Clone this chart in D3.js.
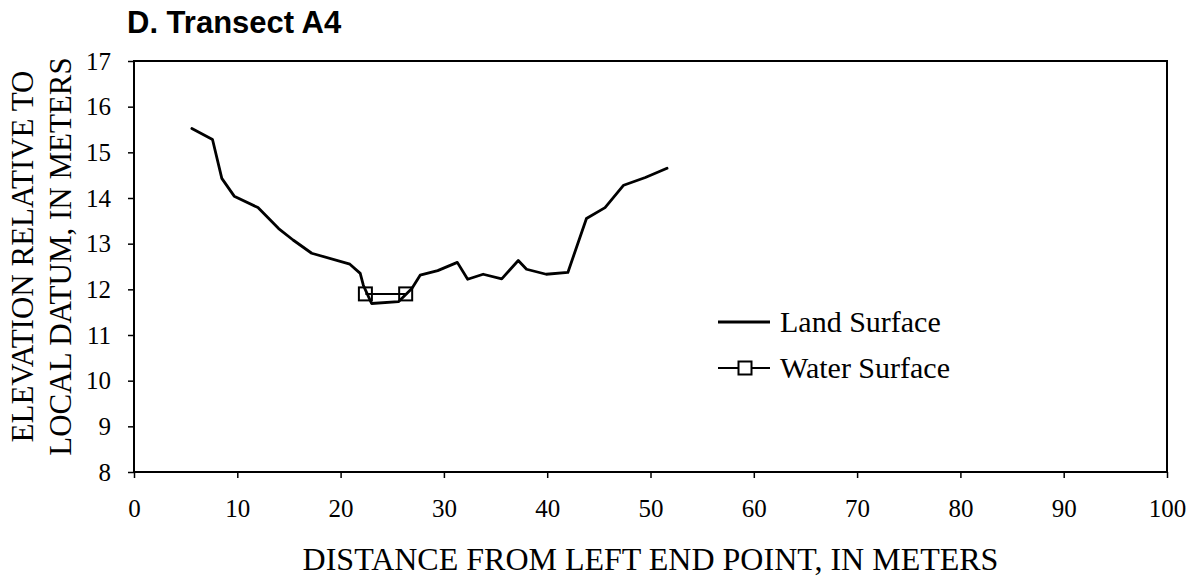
<!DOCTYPE html>
<html>
<head>
<meta charset="utf-8">
<script src="https://cdn.jsdelivr.net/npm/d3@7"></script>
<style>
  body { margin: 0; background: #fff; }
  svg { display: block; }
</style>
</head>
<body>
<div id="chart"></div>
<script>
// data
var landX = [5.6, 7.6, 8.5, 9.7, 12.0, 14.0, 15.4, 17.2, 20.9, 21.9, 22.2, 22.5, 23.0, 25.6, 26.9, 27.7, 29.4, 31.3, 32.3, 33.8, 35.6, 37.2, 38.0, 39.9, 42.0, 43.8, 45.6, 47.4, 49.5, 51.6];
var landY = [15.52, 15.28, 14.43, 14.04, 13.79, 13.33, 13.08, 12.79, 12.55, 12.35, 12.09, 11.94, 11.69, 11.73, 12.02, 12.31, 12.41, 12.59, 12.22, 12.33, 12.23, 12.63, 12.44, 12.33, 12.37, 13.55, 13.79, 14.28, 14.45, 14.65];
var waterX = [22.4, 26.3];
var waterY = [11.9, 11.9];
var xTicks = [0, 10, 20, 30, 40, 50, 60, 70, 80, 90, 100];
var yTicks = [8, 9, 10, 11, 12, 13, 14, 15, 16, 17];

var W = 1197, H = 577;
var margin = { top: 61, right: 30, bottom: 105, left: 134 };
var width = W - margin.left - margin.right;
var height = H - margin.top - margin.bottom;

var serif = "'Liberation Serif', 'Times New Roman', serif";

var svg = d3.select("#chart").append("svg")
    .attr("width", W)
    .attr("height", H);

var g = svg.append("g")
    .attr("transform", "translate(" + margin.left + "," + margin.top + ")");

// scales
var x = d3.scaleLinear().domain([0, 100]).range([0, width]);
var y = d3.scaleLinear().domain([8, 17]).range([height, 0]);

// frame
g.append("rect")
    .attr("width", width)
    .attr("height", height)
    .attr("fill", "none")
    .attr("stroke", "#000")
    .attr("stroke-width", 2);

// axes
var axisX = d3.axisBottom(x).tickValues(xTicks).tickSize(6).tickPadding(21);
var groupX = g.append("g")
    .attr("transform", "translate(0," + height + ")")
    .call(axisX);

var axisY = d3.axisLeft(y).tickValues(yTicks).tickSize(6).tickPadding(17);
var groupY = g.append("g")
    .call(axisY);

[groupX, groupY].forEach(function(ax) {
  ax.select(".domain").remove();
  ax.selectAll("line").attr("stroke", "#000").attr("stroke-width", 1.5);
  ax.selectAll("text")
    .attr("fill", "#000")
    .attr("font-family", serif)
    .attr("font-size", 25);
});

// land surface line
var land = landX.map(function(d, i) { return { x: d, y: landY[i] }; });
var water = waterX.map(function(d, i) { return { x: d, y: waterY[i] }; });

var line = d3.line()
    .x(function(d) { return x(d.x); })
    .y(function(d) { return y(d.y); });

g.append("path")
    .datum(land)
    .attr("d", line)
    .attr("fill", "none")
    .attr("stroke", "#000")
    .attr("stroke-width", 2.8)
    .attr("stroke-linejoin", "round")
    .attr("stroke-linecap", "round");

g.append("path")
    .datum(water)
    .attr("d", line)
    .attr("fill", "none")
    .attr("stroke", "#000")
    .attr("stroke-width", 2);

var sq = 13;
g.selectAll("rect.marker")
    .data(water)
    .enter()
    .append("rect")
    .attr("class", "marker")
    .attr("x", function(d) { return x(d.x) - sq/2; })
    .attr("y", function(d) { return y(d.y) - sq/2; })
    .attr("width", sq)
    .attr("height", sq)
    .attr("fill", "none")
    .attr("stroke", "#000")
    .attr("stroke-width", 2);

// legend
var legend = svg.append("g").attr("transform", "translate(718,322)");
legend.append("line")
    .attr("x1", 0).attr("x2", 52).attr("y1", 0).attr("y2", 0)
    .attr("stroke", "#000").attr("stroke-width", 2.8);
legend.append("text")
    .attr("x", 62).attr("y", 10)
    .attr("font-family", serif).attr("font-size", 30)
    .text("Land Surface");

legend.append("line")
    .attr("x1", 0).attr("x2", 52).attr("y1", 46).attr("y2", 46)
    .attr("stroke", "#000").attr("stroke-width", 2);
legend.append("rect")
    .attr("x", 27 - sq/2).attr("y", 46 - sq/2)
    .attr("width", sq).attr("height", sq)
    .attr("fill", "#fff").attr("stroke", "#000").attr("stroke-width", 2);
legend.append("text")
    .attr("x", 62).attr("y", 56)
    .attr("font-family", serif).attr("font-size", 30)
    .text("Water Surface");

// titles
svg.append("text")
    .attr("x", 127).attr("y", 33)
    .attr("font-family", "'Liberation Sans', Arial, sans-serif")
    .attr("font-weight", "bold")
    .attr("font-size", 31)
    .text("D. Transect A4");

svg.append("text")
    .attr("x", margin.left + width/2).attr("y", 570)
    .attr("text-anchor", "middle")
    .attr("font-family", serif).attr("font-size", 32)
    .text("DISTANCE FROM LEFT END POINT, IN METERS");

var yLab = svg.append("g")
    .attr("transform", "translate(0," + (margin.top + height/2 - 10) + ") rotate(-90)");
yLab.append("text")
    .attr("x", 0).attr("y", 33)
    .attr("text-anchor", "middle")
    .attr("font-family", serif).attr("font-size", 31)
    .text("ELEVATION RELATIVE TO");
yLab.append("text")
    .attr("x", 0).attr("y", 71)
    .attr("text-anchor", "middle")
    .attr("font-family", serif).attr("font-size", 31)
    .text("LOCAL DATUM, IN METERS");
</script>
</body>
</html>
